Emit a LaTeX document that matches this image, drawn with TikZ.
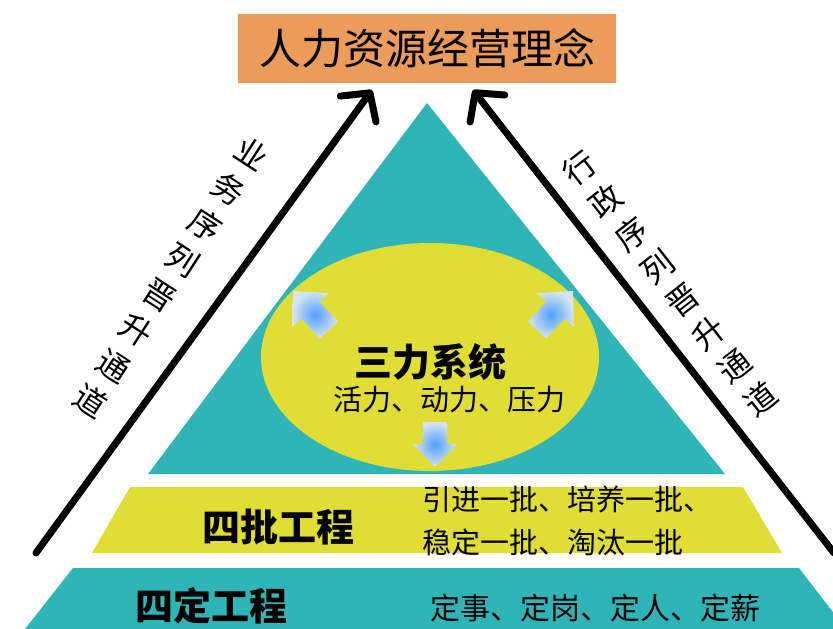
\documentclass[tikz,border=0pt]{standalone}
\usepackage{fontspec}
\setmainfont{Noto Sans CJK SC}
\usetikzlibrary{arrows.meta,shapes.geometric}
\definecolor{tealc}{RGB}{47,181,184}
\definecolor{yelc}{RGB}{224,221,53}
\definecolor{orgc}{RGB}{235,155,90}
\definecolor{bluein}{RGB}{80,160,255}
\definecolor{blueout}{RGB}{215,228,245}
\begin{document}
\begin{tikzpicture}[x=1pt,y=-1pt,
  txt/.style={inner sep=0pt, text=black},
  bigbold/.style={txt, font=\fontsize{38}{44}\selectfont\bfseries},
  midtxt/.style={txt, font=\fontsize{29}{43}\selectfont},
  coltxt/.style={txt, align=center, font=\fontsize{32}{42}\selectfont},
  bluearrow/.style={inner color=bluein, outer color=blueout},
  bigarrow/.style={line width=7pt, line cap=round, -{Straight Barb[length=20pt,width=44pt,round]}}
]
\useasboundingbox (0,0) rectangle (833,629);
% main triangle
\fill[tealc] (427,103) -- (148,474) -- (725,474) -- cycle;
% ellipse
\node[ellipse, fill=yelc, minimum width=338pt, minimum height=228pt, inner sep=0pt] (sys) at (430,357) {};
% blue arrows
\shade[bluearrow] (293,291) -- (329.0,293.1) -- (319.8,301.6) -- (338.1,321.5) -- (319.7,338.5) -- (301.4,318.6) -- (292.2,327.1) -- cycle;
\shade[bluearrow] (573,291) -- (537.0,293.1) -- (546.2,301.6) -- (527.9,321.5) -- (546.3,338.5) -- (564.6,318.6) -- (573.8,327.1) -- cycle;
\shade[bluearrow] (435,467) -- (413,444) -- (423,444) -- (423,422) -- (447,422) -- (447,444) -- (457,444) -- cycle;
\node[bigbold] (sanli) at (430,362) {三力系统};
\node[midtxt] (huoli) at (449,400) {活力、动力、压力};
% middle band
\fill[yelc] (130,487) -- (743,487) -- (782,553) -- (92,553) -- cycle;
\node[bigbold] (sipi) at (278,527) {四批工程};
\node[midtxt, align=left, anchor=west] (sipitxt) at (422,521) {引进一批、培养一批、\\稳定一批、淘汰一批};
% bottom band
\fill[tealc] (73,568) -- (799,568) -- (846,629) -- (25,629) -- cycle;
\node[bigbold] (siding) at (211,606) {四定工程};
\node[txt, font=\fontsize{30}{36}\selectfont, anchor=west] (sidingtxt) at (430,608) {定事、定岗、定人、定薪};
% title
\node[fill=orgc, minimum width=378pt, minimum height=69pt, inner sep=0pt, font=\fontsize{42}{46}\selectfont] (title) at (427,48.5) {人力资源经营理念};
% side arrows
\coordinate (ltail) at (36,553);
\coordinate (ltip) at (372,90);
\coordinate (rtail) at (834,553);
\coordinate (rtip) at (473,90);
\draw[bigarrow] (ltail) -- (ltip);
\draw[bigarrow] (rtail) -- (rtip);
% side labels
\node[coltxt, rotate=-33] (lcol) at (171,277.5) {业\\务\\序\\列\\晋\\升\\通\\道};
\node[coltxt, rotate=38] (rcol) at (670,283.5) {行\\政\\序\\列\\晋\\升\\通\\道};
\end{tikzpicture}
\end{document}
